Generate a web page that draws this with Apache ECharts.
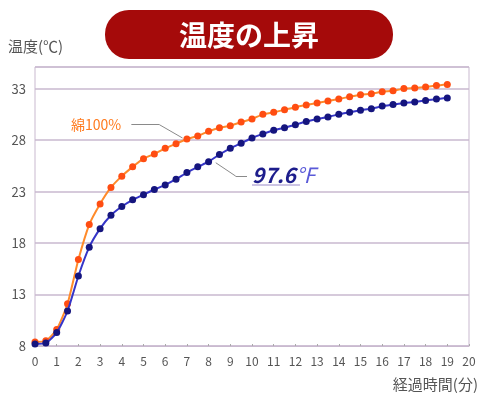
<!DOCTYPE html>
<html>
<head>
<meta charset="utf-8">
<script src="https://cdn.jsdelivr.net/npm/echarts@6/dist/echarts.min.js"></script>
<style>
  html, body { margin: 0; padding: 0; background: #fff; }
  #chart { width: 481px; height: 399px; }
</style>
</head>
<body>
<div id="chart"></div>
<script>
// 経過時間（分）: 0.5分ごと
const minutes = [0, 0.5, 1, 1.5, 2, 2.5, 3, 3.5, 4, 4.5, 5, 5.5, 6, 6.5, 7, 7.5, 8, 8.5, 9, 9.5,
  10, 10.5, 11, 11.5, 12, 12.5, 13, 13.5, 14, 14.5, 15, 15.5, 16, 16.5, 17, 17.5, 18, 18.5, 19];

// 綿100%
const cottonTemp = [8.4, 8.5, 9.6, 12.1, 16.4, 19.8, 21.8, 23.4, 24.5, 25.4, 26.2, 26.65, 27.2, 27.65, 28.1, 28.4, 28.85, 29.2, 29.4, 29.75,
  30.05, 30.5, 30.7, 30.95, 31.2, 31.4, 31.6, 31.8, 32.0, 32.2, 32.4, 32.5, 32.7, 32.8, 33.0, 33.05, 33.15, 33.3, 33.4];

// 97.6°F
const productTemp = [8.2, 8.3, 9.3, 11.4, 14.8, 17.6, 19.4, 20.7, 21.55, 22.2, 22.7, 23.2, 23.65, 24.2, 24.85, 25.4, 25.9, 26.6, 27.2, 27.7,
  28.2, 28.6, 28.95, 29.2, 29.5, 29.8, 30.05, 30.25, 30.5, 30.7, 30.9, 31.05, 31.3, 31.45, 31.6, 31.7, 31.85, 32.0, 32.1];

// 引き出し線（データ座標）
const cottonLeader = [[4.44, 29.5], [5.73, 29.5], [6.8, 28.2]];
const productLeader = [[8.33, 25.8], [9.25, 24.5], [9.77, 24.5]];

const FONT = '"Noto Sans CJK JP", "Noto Sans", sans-serif';
const GRID_COLOR = '#c9b9cf';

function toPairs(xs, ys) {
  return xs.map((x, i) => [x, ys[i]]);
}

function leaderSegments(points) {
  const segs = [];
  for (let i = 0; i < points.length - 1; i++) {
    segs.push([{ coord: points[i] }, { coord: points[i + 1] }]);
  }
  return segs;
}

const chart = echarts.init(document.getElementById('chart'));

const option = {
  animation: false,
  textStyle: { fontFamily: FONT },
  grid: {
    left: 35,
    right: 10,
    top: 67,
    bottom: 53,
    show: true,
    borderColor: GRID_COLOR,
    borderWidth: 1
  },
  xAxis: {
    type: 'value',
    min: 0,
    max: 20,
    interval: 1,
    name: '経過時間(分)',
    nameLocation: 'end',
    nameGap: 0,
    nameTextStyle: {
      color: '#555',
      fontSize: 15,
      align: 'right',
      verticalAlign: 'top',
      padding: [31, -9, 0, 0]
    },
    axisLine: { show: true, lineStyle: { color: GRID_COLOR } },
    axisTick: { show: true, inside: true, length: 2, lineStyle: { color: '#aaa' } },
    axisLabel: { color: '#555', fontSize: 12, margin: 9 },
    splitLine: { show: false }
  },
  yAxis: {
    type: 'value',
    min: 8,
    max: 35.1,
    interval: 5,
    axisLine: { show: false },
    axisTick: { show: false },
    axisLabel: { color: '#555', fontSize: 13, margin: 9, showMaxLabel: false },
    splitLine: { show: true, lineStyle: { color: GRID_COLOR, width: 1.5 } }
  },
  series: [
    {
      name: '綿100%',
      type: 'line',
      data: toPairs(minutes, cottonTemp),
      symbol: 'circle',
      symbolSize: 7,
      smooth: 0.2,
      lineStyle: { color: '#ff8a2a', width: 2 },
      itemStyle: { color: '#ff4d12' },
      z: 3,
      markLine: {
        silent: true,
        symbol: 'none',
        lineStyle: { color: '#8a8a8a', width: 1, type: 'solid' },
        label: { show: false },
        data: leaderSegments(cottonLeader)
      }
    },
    {
      name: '97.6°F',
      type: 'line',
      data: toPairs(minutes, productTemp),
      symbol: 'circle',
      symbolSize: 7,
      smooth: 0.2,
      lineStyle: { color: '#3535c8', width: 2 },
      itemStyle: { color: '#15157e' },
      z: 4,
      markLine: {
        silent: true,
        symbol: 'none',
        lineStyle: { color: '#8a8a8a', width: 1, type: 'solid' },
        label: { show: false },
        data: leaderSegments(productLeader)
      }
    }
  ],
  graphic: [
    {
      type: 'rect',
      shape: { x: 105, y: 10, width: 288, height: 49, r: 24 },
      style: { fill: '#a50a0a' }
    },
    {
      type: 'text',
      x: 249,
      y: 35,
      style: {
        text: '温度の上昇',
        fill: '#fff',
        font: 'bold 28px ' + FONT,
        textAlign: 'center',
        textVerticalAlign: 'middle'
      }
    },
    {
      type: 'text',
      x: 8,
      y: 46,
      style: {
        text: '温度(℃)',
        fill: '#555',
        font: '15px ' + FONT,
        textVerticalAlign: 'middle'
      }
    },
    {
      type: 'text',
      x: 71,
      y: 125,
      style: {
        text: '綿100%',
        fill: '#ff7a1e',
        font: '14px ' + FONT,
        textVerticalAlign: 'middle'
      }
    },
    {
      type: 'text',
      x: 252,
      y: 175,
      style: {
        text: '{a|97.6}{b|°F}',
        textVerticalAlign: 'middle',
        rich: {
          a: { fill: '#1d1d8c', font: 'italic bold 21px ' + FONT },
          b: { fill: '#5a5ad8', font: 'italic 21px ' + FONT }
        }
      }
    },
    {
      type: 'line',
      shape: { x1: 252, y1: 185, x2: 300, y2: 185 },
      style: { stroke: '#9a8ac8', lineWidth: 1 }
    }
  ]
};

chart.setOption(option);
</script>
</body>
</html>
